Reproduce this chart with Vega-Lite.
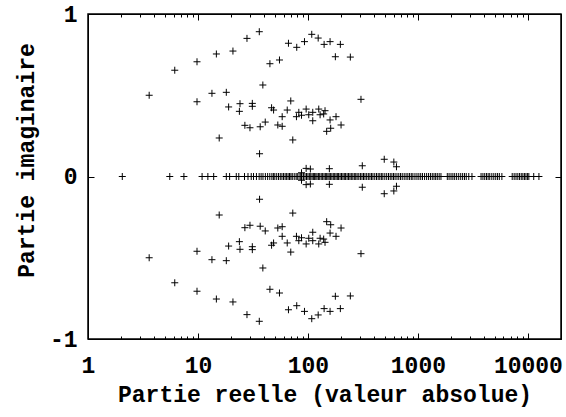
{
  "$schema": "https://vega.github.io/schema/vega-lite/v6.json",
  "width": 473,
  "height": 325,
  "autosize": "none",
  "padding": {"left": 88, "top": 14, "right": 5, "bottom": 78},
  "background": "white",
  "config": {
    "view": {"stroke": "black", "strokeWidth": 1.5},
    "axis": {
      "labelFont": "Liberation Mono",
      "labelFontWeight": "bold",
      "labelColor": "black",
      "titleFont": "Liberation Mono",
      "titleFontWeight": "bold",
      "titleColor": "black",
      "domainColor": "black",
      "tickColor": "black",
      "grid": false
    }
  },
  "data": {
    "values": [
      {"re": 3.6, "im": 0.5}, {"re": 6.15, "im": 0.654}, {"re": 9.8, "im": 0.706}, {"re": 9.8, "im": 0.46},
      {"re": 14.7, "im": 0.754}, {"re": 13.4, "im": 0.512}, {"re": 18.1, "im": 0.518}, {"re": 20.8, "im": 0.772},
      {"re": 19.0, "im": 0.428}, {"re": 24.1, "im": 0.448}, {"re": 23.8, "im": 0.401}, {"re": 15.6, "im": 0.237},
      {"re": 27.9, "im": 0.85}, {"re": 36.1, "im": 0.891}, {"re": 26.7, "im": 0.315}, {"re": 29.7, "im": 0.3},
      {"re": 31.2, "im": 0.45}, {"re": 31.2, "im": 0.432}, {"re": 36.8, "im": 0.306}, {"re": 40.9, "im": 0.335},
      {"re": 38.9, "im": 0.563}, {"re": 36.3, "im": 0.14}, {"re": 45.1, "im": 0.694}, {"re": 55.1, "im": 0.717},
      {"re": 66.5, "im": 0.82}, {"re": 46.7, "im": 0.423}, {"re": 48.7, "im": 0.409}, {"re": 58.3, "im": 0.368},
      {"re": 53.2, "im": 0.317}, {"re": 58.3, "im": 0.309}, {"re": 64.8, "im": 0.409}, {"re": 79.1, "im": 0.795},
      {"re": 93, "im": 0.83}, {"re": 108.3, "im": 0.875}, {"re": 123.9, "im": 0.852}, {"re": 140.3, "im": 0.813},
      {"re": 158.9, "im": 0.83}, {"re": 197.1, "im": 0.813}, {"re": 177.5, "im": 0.737}, {"re": 242.9, "im": 0.735},
      {"re": 303.5, "im": 0.475}, {"re": 69.8, "im": 0.465}, {"re": 72.8, "im": 0.225}, {"re": 78.6, "im": 0.368},
      {"re": 82.6, "im": 0.395}, {"re": 87.4, "im": 0.377}, {"re": 96.3, "im": 0.415}, {"re": 101.7, "im": 0.38},
      {"re": 110.6, "im": 0.395}, {"re": 110.6, "im": 0.343}, {"re": 125.4, "im": 0.415}, {"re": 129, "im": 0.38},
      {"re": 139, "im": 0.385}, {"re": 143, "im": 0.405}, {"re": 158.9, "im": 0.348}, {"re": 180, "im": 0.368},
      {"re": 148, "im": 0.278}, {"re": 161, "im": 0.297}, {"re": 200, "im": 0.317}, {"re": 156.6, "im": 0.048},
      {"re": 96.3, "im": 0.05}, {"re": 105.2, "im": 0.046}, {"re": 87.4, "im": 0.023}, {"re": 312, "im": 0.066},
      {"re": 494, "im": 0.106}, {"re": 604, "im": 0.089}, {"re": 638, "im": 0.06},
      {"re": 3.6, "im": -0.5}, {"re": 6.15, "im": -0.654}, {"re": 9.8, "im": -0.706}, {"re": 9.8, "im": -0.46},
      {"re": 14.7, "im": -0.754}, {"re": 13.4, "im": -0.512}, {"re": 18.1, "im": -0.518}, {"re": 20.8, "im": -0.772},
      {"re": 19.0, "im": -0.428}, {"re": 24.1, "im": -0.448}, {"re": 23.8, "im": -0.401}, {"re": 15.6, "im": -0.237},
      {"re": 27.9, "im": -0.85}, {"re": 36.1, "im": -0.891}, {"re": 26.7, "im": -0.315}, {"re": 29.7, "im": -0.3},
      {"re": 31.2, "im": -0.45}, {"re": 31.2, "im": -0.432}, {"re": 36.8, "im": -0.306}, {"re": 40.9, "im": -0.335},
      {"re": 38.9, "im": -0.563}, {"re": 36.3, "im": -0.14}, {"re": 45.1, "im": -0.694}, {"re": 55.1, "im": -0.717},
      {"re": 66.5, "im": -0.82}, {"re": 46.7, "im": -0.423}, {"re": 48.7, "im": -0.409}, {"re": 58.3, "im": -0.368},
      {"re": 53.2, "im": -0.317}, {"re": 58.3, "im": -0.309}, {"re": 64.8, "im": -0.409}, {"re": 79.1, "im": -0.795},
      {"re": 93, "im": -0.83}, {"re": 108.3, "im": -0.875}, {"re": 123.9, "im": -0.852}, {"re": 140.3, "im": -0.813},
      {"re": 158.9, "im": -0.83}, {"re": 197.1, "im": -0.813}, {"re": 177.5, "im": -0.737}, {"re": 242.9, "im": -0.735},
      {"re": 303.5, "im": -0.475}, {"re": 69.8, "im": -0.465}, {"re": 72.8, "im": -0.225}, {"re": 78.6, "im": -0.368},
      {"re": 82.6, "im": -0.395}, {"re": 87.4, "im": -0.377}, {"re": 96.3, "im": -0.415}, {"re": 101.7, "im": -0.38},
      {"re": 110.6, "im": -0.395}, {"re": 110.6, "im": -0.343}, {"re": 125.4, "im": -0.415}, {"re": 129, "im": -0.38},
      {"re": 139, "im": -0.385}, {"re": 143, "im": -0.405}, {"re": 158.9, "im": -0.348}, {"re": 180, "im": -0.368},
      {"re": 148, "im": -0.278}, {"re": 161, "im": -0.297}, {"re": 200, "im": -0.317}, {"re": 156.6, "im": -0.048},
      {"re": 96.3, "im": -0.05}, {"re": 105.2, "im": -0.046}, {"re": 87.4, "im": -0.023}, {"re": 312, "im": -0.066},
      {"re": 494, "im": -0.106}, {"re": 604, "im": -0.089}, {"re": 638, "im": -0.06},
      {"re": 2.05, "im": 0}, {"re": 5.54, "im": 0}, {"re": 7.45, "im": 0}, {"re": 10.9, "im": 0}, {"re": 12.3, "im": 0},
      {"re": 13.9, "im": 0}, {"re": 18.1, "im": 0}, {"re": 19.4, "im": 0}, {"re": 22.3, "im": 0}, {"re": 23.5, "im": 0},
      {"re": 26.5, "im": 0}, {"re": 28.5, "im": 0}, {"re": 30.5, "im": 0}, {"re": 32, "im": 0}, {"re": 34, "im": 0},
      {"re": 36, "im": 0}, {"re": 37.5, "im": 0}, {"re": 39, "im": 0}, {"re": 41, "im": 0}, {"re": 43, "im": 0},
      {"re": 45, "im": 0}, {"re": 47, "im": 0}, {"re": 48.5, "im": 0}, {"re": 50, "im": 0}, {"re": 52, "im": 0},
      {"re": 54, "im": 0}, {"re": 56, "im": 0}, {"re": 58, "im": 0}, {"re": 60, "im": 0}, {"re": 62, "im": 0},
      {"re": 64, "im": 0}, {"re": 66, "im": 0}, {"re": 68, "im": 0}, {"re": 70, "im": 0}, {"re": 72, "im": 0},
      {"re": 75, "im": 0}, {"re": 78, "im": 0}, {"re": 80, "im": 0}, {"re": 83, "im": 0}, {"re": 86, "im": 0},
      {"re": 88, "im": 0}, {"re": 91, "im": 0}, {"re": 94, "im": 0}, {"re": 97, "im": 0}, {"re": 100, "im": 0},
      {"re": 103, "im": 0}, {"re": 106, "im": 0}, {"re": 109, "im": 0}, {"re": 112, "im": 0}, {"re": 115, "im": 0},
      {"re": 118, "im": 0}, {"re": 121, "im": 0}, {"re": 125, "im": 0}, {"re": 128, "im": 0}, {"re": 132, "im": 0},
      {"re": 136, "im": 0}, {"re": 140, "im": 0}, {"re": 144, "im": 0}, {"re": 148, "im": 0}, {"re": 152, "im": 0},
      {"re": 156, "im": 0}, {"re": 160, "im": 0}, {"re": 165, "im": 0}, {"re": 170, "im": 0}, {"re": 175, "im": 0},
      {"re": 180, "im": 0}, {"re": 185, "im": 0}, {"re": 190, "im": 0}, {"re": 196, "im": 0}, {"re": 202, "im": 0},
      {"re": 208, "im": 0}, {"re": 214, "im": 0}, {"re": 220, "im": 0}, {"re": 227, "im": 0}, {"re": 234, "im": 0},
      {"re": 241, "im": 0}, {"re": 248, "im": 0}, {"re": 256, "im": 0}, {"re": 264, "im": 0}, {"re": 272, "im": 0},
      {"re": 280, "im": 0}, {"re": 290, "im": 0}, {"re": 300, "im": 0}, {"re": 310, "im": 0}, {"re": 320, "im": 0},
      {"re": 330, "im": 0}, {"re": 342, "im": 0}, {"re": 354, "im": 0}, {"re": 366, "im": 0}, {"re": 378, "im": 0},
      {"re": 390, "im": 0}, {"re": 405, "im": 0}, {"re": 420, "im": 0}, {"re": 435, "im": 0}, {"re": 450, "im": 0},
      {"re": 465, "im": 0}, {"re": 480, "im": 0}, {"re": 500, "im": 0}, {"re": 520, "im": 0}, {"re": 540, "im": 0},
      {"re": 560, "im": 0}, {"re": 580, "im": 0}, {"re": 600, "im": 0}, {"re": 620, "im": 0}, {"re": 645, "im": 0},
      {"re": 670, "im": 0}, {"re": 695, "im": 0}, {"re": 720, "im": 0}, {"re": 750, "im": 0}, {"re": 780, "im": 0},
      {"re": 810, "im": 0}, {"re": 840, "im": 0}, {"re": 870, "im": 0}, {"re": 900, "im": 0}, {"re": 940, "im": 0},
      {"re": 980, "im": 0}, {"re": 1020, "im": 0}, {"re": 1060, "im": 0}, {"re": 1100, "im": 0}, {"re": 1150, "im": 0},
      {"re": 1200, "im": 0}, {"re": 1250, "im": 0}, {"re": 1300, "im": 0}, {"re": 1350, "im": 0}, {"re": 1400, "im": 0},
      {"re": 1450, "im": 0}, {"re": 1500, "im": 0}, {"re": 1560, "im": 0}, {"re": 1620, "im": 0}, {"re": 1850, "im": 0},
      {"re": 1920, "im": 0}, {"re": 2000, "im": 0}, {"re": 2080, "im": 0}, {"re": 2160, "im": 0}, {"re": 2250, "im": 0},
      {"re": 2350, "im": 0}, {"re": 2450, "im": 0}, {"re": 2550, "im": 0}, {"re": 2650, "im": 0}, {"re": 2750, "im": 0},
      {"re": 2900, "im": 0}, {"re": 3100, "im": 0}, {"re": 3750, "im": 0}, {"re": 3900, "im": 0}, {"re": 4050, "im": 0},
      {"re": 4200, "im": 0}, {"re": 4350, "im": 0}, {"re": 4500, "im": 0}, {"re": 4700, "im": 0}, {"re": 4900, "im": 0},
      {"re": 5100, "im": 0}, {"re": 5300, "im": 0}, {"re": 5500, "im": 0}, {"re": 5800, "im": 0}, {"re": 7200, "im": 0},
      {"re": 7500, "im": 0}, {"re": 7800, "im": 0}, {"re": 8100, "im": 0}, {"re": 8400, "im": 0}, {"re": 8700, "im": 0},
      {"re": 9000, "im": 0}, {"re": 9300, "im": 0}, {"re": 9600, "im": 0}, {"re": 9900, "im": 0}, {"re": 10200, "im": 0},
      {"re": 11300, "im": 0}, {"re": 12600, "im": 0}
    ]
  },
  "layer": [
    {
      "mark": {"type": "point", "shape": "M-1,0H1M0,-1V1", "filled": false, "stroke": "black", "strokeWidth": 1, "size": 49, "opacity": 1},
      "encoding": {
        "x": {
          "field": "re", "type": "quantitative",
          "scale": {"type": "log", "domain": [1, 20000], "nice": false},
          "axis": {
            "orient": "bottom",
            "title": "Partie reelle (valeur absolue)",
            "titleFontSize": 23,
            "titlePadding": 3,
            "labelFontSize": 23,
            "labelPadding": 21,
            "values": [1,2,3,4,5,6,7,8,9,10,20,30,40,50,60,70,80,90,100,200,300,400,500,600,700,800,900,1000,2000,3000,4000,5000,6000,7000,8000,9000,10000,20000],
            "labelExpr": "indexof([1,10,100,1000,10000], datum.value) >= 0 ? '' + datum.value : ''",
            "tickSize": {"condition": {"test": "indexof([1,10,100,1000,10000], datum.value) >= 0", "value": -6}, "value": -3},
            "labelFlush": false,
            "labelOverlap": false
          }
        },
        "y": {
          "field": "im", "type": "quantitative",
          "scale": {"domain": [-1, 1], "nice": false},
          "axis": {
            "orient": "left",
            "title": "Partie imaginaire",
            "titleFontSize": 23,
            "titleX": -62,
            "titleY": 146,
            "titleAlign": "center",
            "titleBaseline": "middle",
            "titleAngle": 270,
            "labelFontSize": 23,
            "labelPadding": 17,
            "values": [-1, 0, 1],
            "labelExpr": "datum.value < 0 ? '-1' : (datum.value > 0 ? '1' : '0')",
            "labelOverlap": false,
            "tickSize": -6,
            "labelFlush": false
          }
        }
      }
    },
    {
      "mark": {"type": "point", "opacity": 0},
      "encoding": {
        "x": {
          "field": "re", "type": "quantitative",
          "axis": {
            "orient": "top", "title": null, "labels": false,
            "values": [1,2,3,4,5,6,7,8,9,10,20,30,40,50,60,70,80,90,100,200,300,400,500,600,700,800,900,1000,2000,3000,4000,5000,6000,7000,8000,9000,10000,20000],
            "tickSize": {"condition": {"test": "indexof([1,10,100,1000,10000], datum.value) >= 0", "value": -6}, "value": -3}
          }
        },
        "y": {
          "field": "im", "type": "quantitative",
          "axis": {"orient": "right", "title": null, "labels": false, "values": [-1, 0, 1], "tickSize": -6}
        }
      }
    }
  ],
  "resolve": {"axis": {"x": "independent", "y": "independent"}}
}
